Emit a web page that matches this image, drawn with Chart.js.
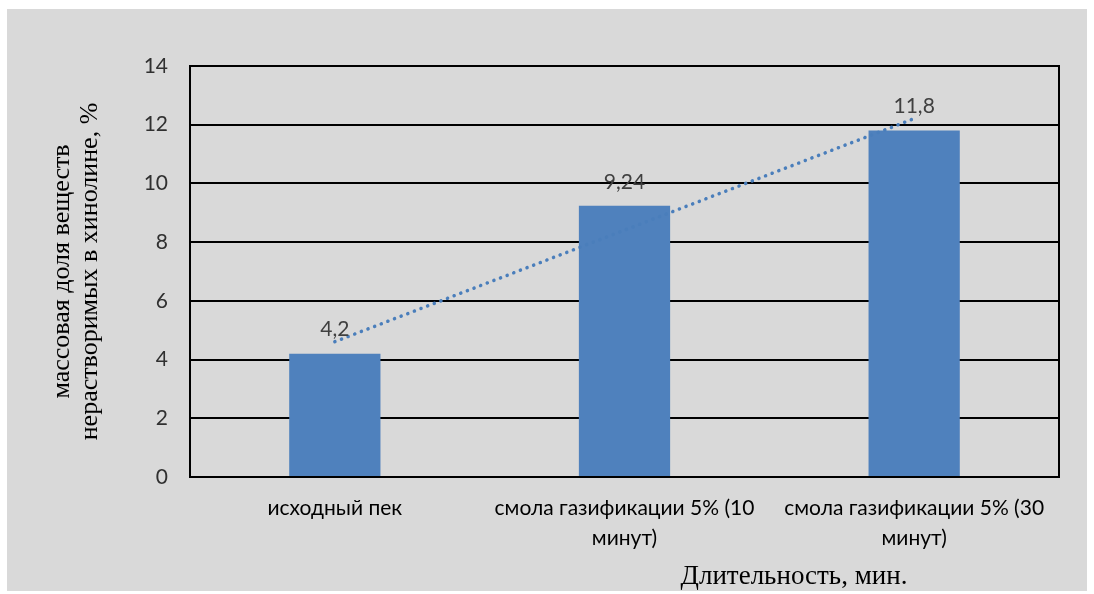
<!DOCTYPE html>
<html>
<head>
<meta charset="utf-8">
<script src="https://cdn.jsdelivr.net/npm/chart.js@4.4.1/dist/chart.umd.min.js"></script>
<style>
  html, body { margin: 0; padding: 0; background: #fff; }
  #wrap { width: 1094px; height: 594px; }
</style>
</head>
<body>
<div id="wrap"><canvas id="chart" width="1094" height="594"></canvas></div>
<script>
// категории и значения
const categories = [
    'исходный пек',
    ['смола газификации 5% (10', 'минут)'],
    ['смола газификации 5% (30', 'минут)']
];
const insolubleShare = [4.2, 9.24, 11.8];
// линейный тренд (значения в точках категорий)
const trendValues = [4.61, 8.41, 12.21];
const yTicks = [0, 2, 4, 6, 8, 10, 12, 14];

const yTitle = ['массовая доля веществ', 'нерастворимых в хинолине, %'];
const xTitle = 'Длительность, мин.';

// серый фон, рамка области построения, подписи значений и подпись оси X
const decorPlugin = {
    id: 'decor',
    beforeDraw(chart) {
        const ctx = chart.ctx;
        ctx.save();
        ctx.fillStyle = '#fff';
        ctx.fillRect(0, 0, chart.width, chart.height);
        ctx.fillStyle = '#d9d9d9';
        ctx.fillRect(7, 9, 1080, 582);
        ctx.restore();
    },
    afterDraw(chart) {
        const ctx = chart.ctx;
        const a = chart.chartArea;
        ctx.save();
        ctx.strokeStyle = '#000';
        ctx.lineWidth = 2;
        ctx.strokeRect(a.left, a.top, a.right - a.left, a.bottom - a.top);

        // значения над столбцами
        const meta = chart.getDatasetMeta(0);
        ctx.fillStyle = '#404040';
        ctx.font = '21px Lato';
        ctx.textAlign = 'center';
        ctx.textBaseline = 'middle';
        meta.data.forEach((bar, i) => {
            const txt = String(insolubleShare[i]).replace('.', ',');
            ctx.fillText(txt, bar.x, bar.y - 24);
        });

        // подпись оси X
        ctx.fillStyle = '#000';
        ctx.font = '27px "Liberation Serif"';
        ctx.fillText(xTitle, a.left + (a.right - a.left) * 0.695, 577);
        ctx.restore();
    }
};

const ctx = document.getElementById('chart').getContext('2d');
new Chart(ctx, {
    data: {
        labels: categories,
        datasets: [
            {
                type: 'bar',
                data: insolubleShare,
                backgroundColor: '#4f81bd',
                categoryPercentage: 1,
                barPercentage: 0.315,
                order: 2
            },
            {
                type: 'line',
                data: trendValues,
                borderColor: '#4a7ebb',
                borderWidth: 3.5,
                borderDash: [0.1, 7],
                borderCapStyle: 'round',
                pointRadius: 0,
                fill: false,
                order: 1
            }
        ]
    },
    options: {
        responsive: false,
        animation: false,
        layout: { padding: { left: 0, top: 66, right: 35, bottom: 0 } },
        plugins: {
            legend: { display: false },
            tooltip: { enabled: false }
        },
        scales: {
            x: {
                grid: { display: false, drawTicks: false },
                border: { display: false },
                ticks: {
                    color: '#000',
                    font: { family: 'Lato', size: 21, lineHeight: 1.43 },
                    padding: 16,
                    maxRotation: 0,
                    autoSkip: false
                },
                afterFit(scale) { scale.height = 117; }
            },
            y: {
                min: 0,
                max: 14,
                afterBuildTicks(scale) { scale.ticks = yTicks.map(v => ({ value: v })); },
                grid: { color: '#000', lineWidth: 2, drawTicks: false },
                border: { display: false },
                ticks: {
                    color: '#303030',
                    font: { family: 'Lato', size: 21 },
                    padding: 22
                },
                title: {
                    display: true,
                    text: yTitle,
                    color: '#000',
                    font: { family: 'Liberation Serif', size: 26, lineHeight: 1.08 },
                    padding: { top: 48, bottom: 0 }
                },
                afterFit(scale) { scale.width = 190; }
            }
        }
    },
    plugins: [decorPlugin]
});
</script>
</body>
</html>
